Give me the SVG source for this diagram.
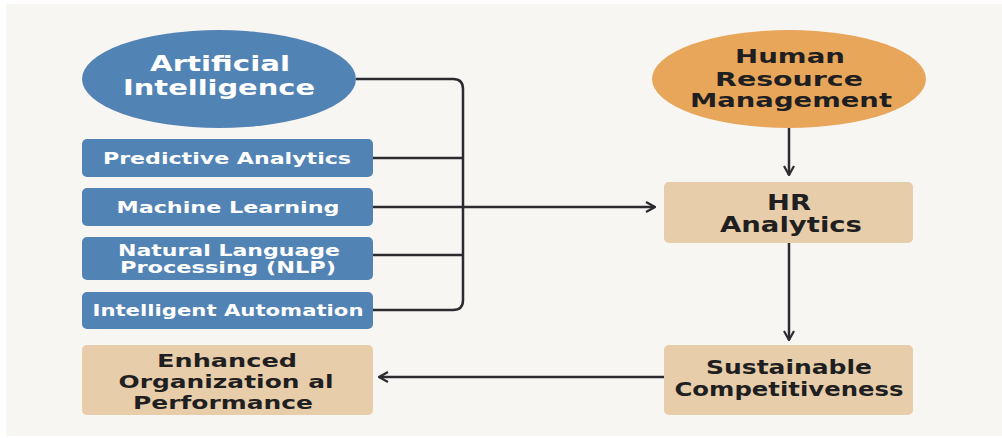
<svg xmlns="http://www.w3.org/2000/svg" width="1002" height="438" viewBox="0 0 1002 438">
<defs>
<style>
.blue{fill:#5283b5}
.tan{fill:#e7cda9}
.orange{fill:#e8a65b}
.wt{font-family:"DejaVu Sans",sans-serif;font-weight:bold;fill:#ffffff;text-anchor:middle}
.dt{font-family:"DejaVu Sans",sans-serif;font-weight:bold;fill:#1f1f22;text-anchor:middle}
.ln{fill:none;stroke:#2b2b30;stroke-width:2.5}
</style>
<marker id="chev" viewBox="0 0 12 12" refX="11" refY="6" markerWidth="12" markerHeight="12" markerUnits="userSpaceOnUse" orient="auto">
<path d="M2,1 L11,6 L2,11" fill="none" stroke="#2b2b30" stroke-width="2.2"/>
</marker>
</defs>
<rect x="0" y="0" width="1002" height="438" fill="#ffffff"/>
<rect x="6" y="4" width="996" height="432" fill="#f8f6f3"/>

<g id="connectors">
<path class="ln" d="M356,79 H453 Q463,79 463,89 V300 Q463,310 453,310 H373"/>
<path class="ln" d="M373,158 H463"/>
<path class="ln" d="M373,207 H463"/>
<path class="ln" d="M373,255 H463"/>
<path class="ln" d="M463,207 H655" stroke-width="2" marker-end="url(#chev)"/>
<path class="ln" d="M789,128 V175" marker-end="url(#chev)"/>
<path class="ln" d="M789,243 V340" marker-end="url(#chev)"/>
<path class="ln" d="M664,377 H379" marker-end="url(#chev)"/>
</g>

<g id="ai">
<ellipse class="blue" cx="219" cy="79" rx="137" ry="49"/>
<text class="wt" x="220" y="71" font-size="22" textLength="140" lengthAdjust="spacingAndGlyphs">Artificial</text>
<text class="wt" x="219" y="95" font-size="22" textLength="192" lengthAdjust="spacingAndGlyphs">Intelligence</text>
</g>
<g id="predictive">
<rect class="blue" x="82" y="139" width="291" height="38" rx="5"/>
<text class="wt" x="227" y="164" font-size="16" textLength="248" lengthAdjust="spacingAndGlyphs">Predictive Analytics</text>
</g>
<g id="ml">
<rect class="blue" x="82" y="188" width="291" height="38" rx="5"/>
<text class="wt" x="228" y="213" font-size="16" textLength="223" lengthAdjust="spacingAndGlyphs">Machine Learning</text>
</g>
<g id="nlp">
<rect class="blue" x="82" y="237" width="291" height="43" rx="5"/>
<text class="wt" x="229" y="256" font-size="16" textLength="222" lengthAdjust="spacingAndGlyphs">Natural Language</text>
<text class="wt" x="228" y="273" font-size="16" textLength="216" lengthAdjust="spacingAndGlyphs">Processing (NLP)</text>
</g>
<g id="automation">
<rect class="blue" x="82" y="292" width="291" height="37" rx="5"/>
<text class="wt" x="228" y="316" font-size="16" textLength="271" lengthAdjust="spacingAndGlyphs">Intelligent Automation</text>
</g>
<g id="enhanced">
<rect class="tan" x="82" y="345" width="291" height="70" rx="5"/>
<text class="dt" x="227" y="367" font-size="18" textLength="140" lengthAdjust="spacingAndGlyphs">Enhanced</text>
<text class="dt" x="226" y="388" font-size="18" textLength="215" lengthAdjust="spacingAndGlyphs">Organization al</text>
<text class="dt" x="223" y="409" font-size="18" textLength="180" lengthAdjust="spacingAndGlyphs">Performance</text>
</g>
<g id="hrm">
<ellipse class="orange" cx="789" cy="79" rx="137" ry="49"/>
<text class="dt" x="790" y="63" font-size="19" textLength="110" lengthAdjust="spacingAndGlyphs">Human</text>
<text class="dt" x="789" y="86" font-size="19" textLength="148" lengthAdjust="spacingAndGlyphs">Resource</text>
<text class="dt" x="791" y="107" font-size="19" textLength="202" lengthAdjust="spacingAndGlyphs">Management</text>
</g>
<g id="hra">
<rect class="tan" x="664" y="182" width="249" height="61" rx="5"/>
<text class="dt" x="789" y="210" font-size="21" textLength="44" lengthAdjust="spacingAndGlyphs">HR</text>
<text class="dt" x="791" y="232" font-size="21" textLength="142" lengthAdjust="spacingAndGlyphs">Analytics</text>
</g>
<g id="sustainable">
<rect class="tan" x="664" y="345" width="249" height="70" rx="5"/>
<text class="dt" x="789" y="374" font-size="20" textLength="166" lengthAdjust="spacingAndGlyphs">Sustainable</text>
<text class="dt" x="789" y="396" font-size="20" textLength="229" lengthAdjust="spacingAndGlyphs">Competitiveness</text>
</g>
</svg>
